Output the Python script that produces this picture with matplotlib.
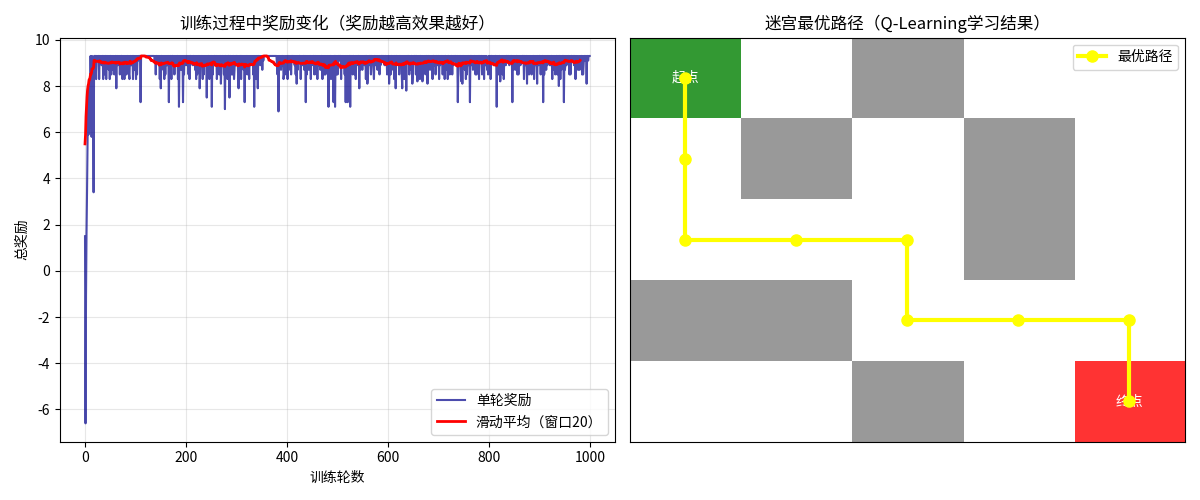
import numpy as np
import matplotlib
matplotlib.use("Agg")
import matplotlib.pyplot as plt
from matplotlib.colors import ListedColormap

plt.rcParams['font.family'] = ['Noto Sans CJK SC', 'DejaVu Sans']
plt.rcParams['axes.unicode_minus'] = False

# ---------------- data: training rewards ----------------
n_episodes = 1000
optimal_reward = 9.3
early_rewards = [1.5, -6.6, -1.1, 1.6, 3.4, 5.6, 7.5, 5.9, 8.1, 7.3,
                 6.4, 9.3, 7.7, 5.8, 9.3, 9.1, 7.1, 3.4, 9.3, 9.3]

eps_9_1 = [25, 31, 45, 67, 70, 85, 98, 105, 138, 143, 153, 175, 190, 198, 211,
           230, 237, 255, 264, 289, 301, 312, 329, 345, 353, 387, 397, 412, 423,
           441, 451, 464, 478, 490, 503, 513, 528, 540, 551, 569, 581, 590, 599,
           618, 639, 651, 671, 684, 695, 705, 721, 732, 741, 757, 770, 783, 797,
           807, 825, 837, 843, 853, 864, 883, 893, 911, 918, 929, 944, 955, 965,
           975, 981, 990, 996]
eps_8_9 = [33, 56, 59, 65, 91, 92, 146, 161, 163, 179, 181, 200, 203, 213, 216,
           224, 239, 258, 270, 273, 298, 306, 319, 327, 331, 347, 349, 380, 385,
           390, 399, 404, 415, 429, 431, 444, 449, 457, 462, 467, 480, 484, 509,
           511, 533, 538, 547, 553, 562, 575, 577, 585, 593, 596, 608, 620, 625,
           634, 645, 661, 666, 681, 686, 692, 698, 703, 715, 724, 729, 735, 750,
           760, 766, 777, 792, 794, 800, 809, 811, 831, 833, 840, 850, 860, 862,
           872, 886, 891, 898, 915, 920, 922, 932, 951, 953, 958, 968, 973, 978,
           987]
eps_8_7 = [47, 54, 76, 80, 99, 155, 168, 188, 192, 218, 228, 248, 262, 280, 296,
           314, 323, 337, 351, 388, 406, 421, 434, 443, 466, 472, 489, 518, 522,
           545, 549, 571, 579, 603, 610, 630, 644, 659, 673, 683, 710, 716, 739,
           752, 768, 788, 796, 817, 823, 848, 852, 877, 881, 904, 913, 927, 943,
           950, 976, 979]
eps_8_5 = [39, 52, 58, 69, 82, 87, 103, 140, 159, 177, 196, 205, 222, 235, 243,
           253, 266, 275, 290, 292, 303, 318, 322, 333, 381, 394, 396, 408, 417,
           439, 454, 458, 474, 476, 498, 500, 514, 530, 534, 560, 566, 583, 598,
           605, 622, 627, 642, 649, 655, 670, 675, 694, 708, 722, 727, 744, 756,
           773, 775, 786, 798, 819, 827, 856, 858, 879, 884, 902, 909, 931, 935,
           959, 961, 984, 986]
eps_8_3 = [22, 28, 36, 42, 49, 74, 78, 88, 95, 101, 148, 157, 171, 184, 207, 220,
           233, 246, 261, 282, 295, 309, 325, 339, 393, 401, 427, 447, 460, 470,
           487, 507, 536, 556, 572, 612, 632, 663, 688, 701, 712, 718, 754, 780,
           790, 803, 829, 869, 889, 925, 941, 971]
eps_8_2 = [658, 668, 745, 822]
eps_8_1 = [269, 419, 559, 602, 648, 678, 747, 875, 895, 993]
eps_8_0 = [938]
eps_7_9 = [62, 150, 227, 304, 342, 543, 615, 628]
eps_7_8 = [636]
eps_7_5 = [241, 286]
eps_7_3 = [110, 166, 194, 316, 437, 492, 516, 520, 738, 762, 846, 907, 948]
eps_7_1 = [186, 251, 335, 482, 495, 525, 815]
eps_7_0 = [277]
eps_6_9 = [383]

rewards = np.full(n_episodes, optimal_reward)
for level, eps in [(9.1, eps_9_1), (8.9, eps_8_9), (8.7, eps_8_7), (8.5, eps_8_5),
                   (8.3, eps_8_3), (8.2, eps_8_2), (8.1, eps_8_1), (8.0, eps_8_0),
                   (7.9, eps_7_9), (7.8, eps_7_8), (7.5, eps_7_5), (7.3, eps_7_3),
                   (7.1, eps_7_1), (7.0, eps_7_0), (6.9, eps_6_9)]:
    rewards[eps] = level
rewards[:len(early_rewards)] = early_rewards

window = 20
moving_avg = np.convolve(rewards, np.ones(window) / window, mode='valid')

# ---------------- data: maze ----------------
# 0 free, 1 wall, 2 start, 3 goal
maze = [[2, 0, 1, 0, 0],
        [0, 1, 0, 1, 0],
        [0, 0, 0, 1, 0],
        [1, 1, 0, 0, 0],
        [0, 0, 1, 0, 3]]
path_rows = [0, 1, 2, 2, 2, 3, 3, 3, 4]
path_cols = [0, 0, 0, 1, 2, 2, 3, 4, 4]
start_cell = (0, 0)
goal_cell = (4, 4)

# ---------------- plotting ----------------
fig, (ax1, ax2) = plt.subplots(1, 2, figsize=(12, 5), dpi=100)

ax1.plot(np.arange(n_episodes), rewards, color='darkblue', alpha=0.7,
         linewidth=1.5, label='单轮奖励')
ax1.plot(np.arange(len(moving_avg)), moving_avg, color='red', linewidth=2,
         label=f'滑动平均（窗口{window}）')
ax1.set_title('训练过程中奖励变化（奖励越高效果越好）', fontsize=12)
ax1.set_xlabel('训练轮数')
ax1.set_ylabel('总奖励')
ax1.grid(True, alpha=0.3)
ax1.legend(loc='lower right')

cmap = ListedColormap(['white', 'gray', 'green', 'red'])
ax2.imshow(np.array(maze), cmap=cmap, vmin=0, vmax=3, alpha=0.8, aspect='auto')
ax2.text(start_cell[1], start_cell[0], '起点', color='white', ha='center',
         va='center', fontsize=10, zorder=3)
ax2.text(goal_cell[1], goal_cell[0], '终点', color='white', ha='center',
         va='center', fontsize=10, zorder=3)
ax2.plot(path_cols, path_rows, '-o', color='yellow', linewidth=3, markersize=8,
         label='最优路径', zorder=4)
ax2.set_title('迷宫最优路径（Q-Learning学习结果）', fontsize=12)
ax2.set_xticks([])
ax2.set_yticks([])
ax2.legend(loc='upper right')

plt.tight_layout()
plt.savefig('out.png', dpi=100)
